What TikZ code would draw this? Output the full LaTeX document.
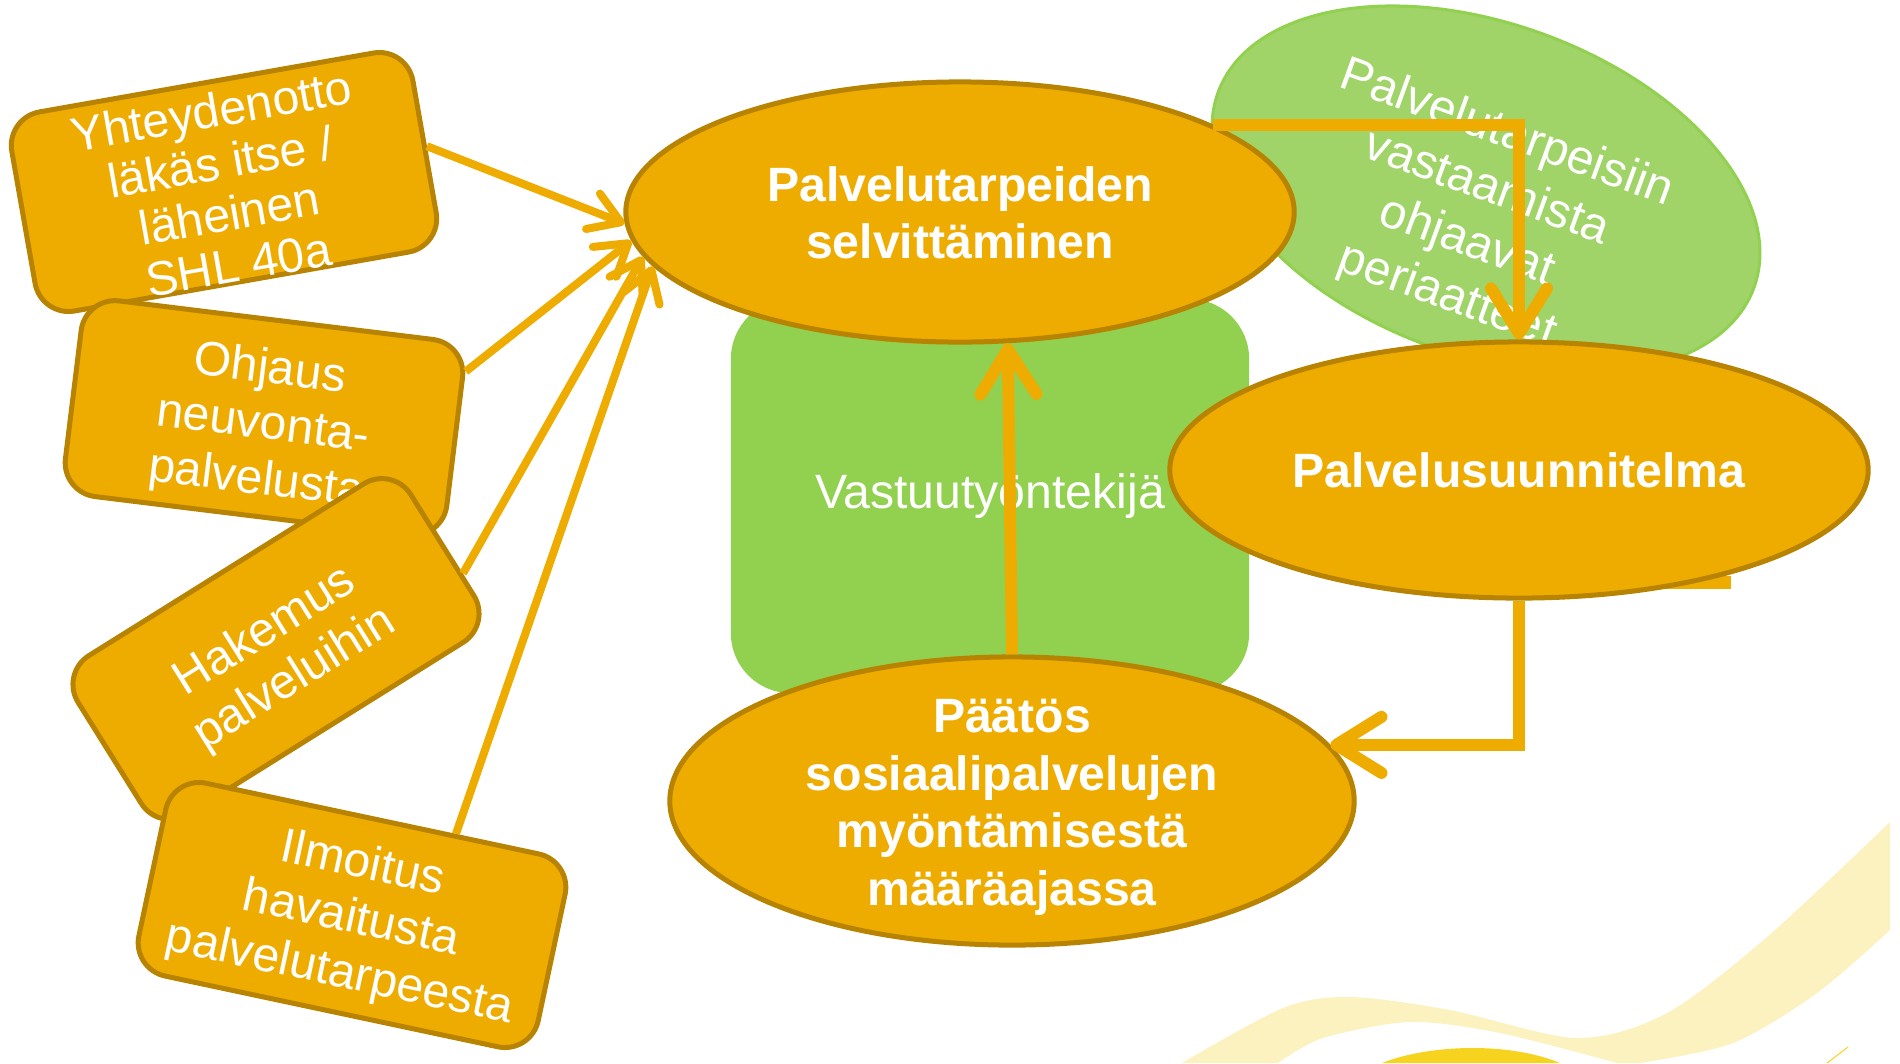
\documentclass[tikz,border=0pt]{standalone}
\usepackage{fontspec}
\setmainfont{Liberation Sans}
\usepackage{tikz}
\usetikzlibrary{shapes.geometric,arrows.meta}
\definecolor{ochre}{HTML}{EFAC00}
\definecolor{ochredark}{HTML}{B78300}
\definecolor{leaf}{HTML}{92D050}
\definecolor{leafpale}{HTML}{A0D468}
\definecolor{cream}{HTML}{FBF2BF}
\definecolor{sun}{HTML}{F6D31E}
\newcommand{\lns}[2][0cm]{\smash{\raisebox{\dimexpr-5.4pt-#1\relax}{\begin{tabular}{@{}c@{}}#2\end{tabular}}}}

\begin{document}
\begin{tikzpicture}[x=0.01cm,y=-0.01cm,
box/.style={draw=ochredark,fill=ochre,line width=0.05cm,rounded corners=0.34cm,text=white,inner sep=0pt,font=\fontsize{13.7}{15.8}\selectfont},
oval/.style={ellipse,draw=ochredark,fill=ochre,line width=0.05cm,text=white,inner sep=0pt,font=\fontsize{13.7}{16.4}\selectfont\bfseries},
link/.style={draw=ochre,line width=0.08cm,>={Straight Barb[round,length=0.3cm,width=0.38cm]},->},
flow/.style={draw=ochre,line width=0.12cm,>={Straight Barb[round,length=0.45cm,width=0.56cm]},->}]
\useasboundingbox (0,0) rectangle (1900,1063);
\fill[cream] plot[smooth] coordinates {(1182,1063) (1283,1008) (1350,997) (1450,1010) (1577,1038) (1667,1013) (1767,937) (1890,822)} -- (1890,930)
 -- plot[smooth] coordinates {(1890,930) (1817,993) (1733,1043) (1640,1063)} -- (1617,1063)
 -- plot[smooth] coordinates {(1617,1063) (1500,1033) (1410,1022) (1323,1038) (1278,1063)} -- cycle;
\fill[sun] (1382,1063) .. controls (1430,1044) and (1510,1042) .. (1560,1063) -- cycle;
\draw[sun,line width=0.01cm] (1827,1063) -- (1848,1047);

\node[ellipse,rotate=-20,fill=leafpale,draw=leaf,line width=0.03cm,text=white,inner sep=0pt,minimum width=5.7cm,minimum height=3.32cm,font=\fontsize{13.7}{16.4}\selectfont] (princ) at (1486,190) {\lns[0.22cm]{Palvelutarpeisiin\\vastaamista\\ohjaavat\\periaatteet}};
\node[rectangle,rounded corners=0.6cm,fill=leaf,minimum width=5.18cm,minimum height=3.94cm,text=white,font=\fontsize{13.7}{16.4}\selectfont] (vastuu) at (990,496) {Vastuutyöntekijä};

\node[box,rotate=10,minimum width=4.07cm,minimum height=2.02cm,font=\fontsize{13.7}{14.8}\selectfont] (yht) at (224,182) {\lns[0.06cm]{Yhteydenotto\\läkäs itse /\\läheinen\\SHL 40a}};
\node[box,rotate=-7,minimum width=3.84cm,minimum height=1.97cm] (ohj) at (264,418) {\lns[0.03cm]{Ohjaus\\neuvonta-\\palvelusta}};
\node[box,rotate=32,minimum width=3.92cm,minimum height=1.87cm] (hak) at (276,649) {\lns[0.03cm]{Hakemus\\palveluihin}};
\node[box,rotate=-12,minimum width=4.08cm,minimum height=1.97cm] (ilm) at (352,915) {\lns{Ilmoitus\\havaitusta\\palvelutarpeesta}};

\node[oval,minimum width=6.68cm,minimum height=2.6cm] (selv) at (960,212) {\lns{Palvelutarpeiden\\selvittäminen}};
\draw[ochre,line width=0.13cm] (1600,582) -- (1731,582);
\node[oval,minimum width=6.98cm,minimum height=2.56cm] (plan) at (1519,470) {Palvelusuunnitelma};
\node[oval,minimum width=6.84cm,minimum height=2.88cm] (paat) at (1012,801) {\lns{Päätös\\sosiaalipalvelujen\\myöntämisestä\\määräajassa}};

\draw[link] (yht.east) -- (selv.182);
\draw[link] (ohj.20) -- (selv.185);
\draw[link] (hak.-10) -- (selv.188);
\draw[link] (ilm.50) -- (selv.190);
\draw[flow] (paat.north) -- (selv.-70);
\draw[flow] (selv.19) -| (plan.north);
\draw[flow] (plan.south) |- (paat.10);
\end{tikzpicture}
\end{document}
